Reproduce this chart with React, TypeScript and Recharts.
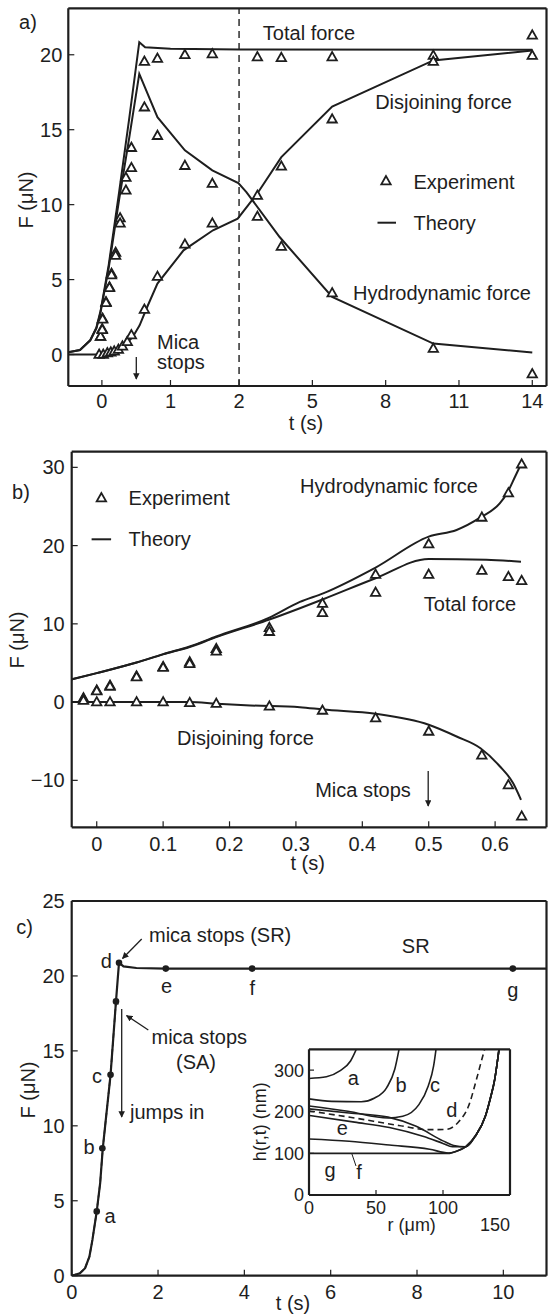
import React from "react";
import { ComposedChart, Line, Scatter, XAxis, YAxis, ReferenceLine } from "recharts";

document.body.style.margin = "0";

const INK = "#1e1e1e";
const FONT = "'Liberation Sans', Arial, Helvetica, sans-serif";

// ---------- panel a (t axis is compressed after 2 s) ----------
const aTheoryTotalT = [-0.49, -0.32, -0.17, -0.08, -0.02, 0.1, 0.25, 0.4, 0.545, 0.63, 1.0, 2, 14];
const aTheoryTotalF = [0.15, 0.3, 0.95, 1.8, 2.9, 6.0, 10.8, 15.8, 20.84, 20.5, 20.4, 20.35, 20.33];
const aTheoryHydroT = [-0.49, -0.32, -0.17, -0.08, -0.02, 0.1, 0.25, 0.4, 0.545, 0.81, 1.21, 1.61, 1.99, 2.3, 3.66, 5.81, 9.95, 14];
const aTheoryHydroF = [0.15, 0.3, 0.95, 1.75, 2.8, 5.8, 10.3, 14.5, 18.73, 15.84, 13.62, 12.29, 11.44, 10.84, 7.84, 3.84, 0.73, 0.13];
const aTheoryDisjT = [-0.49, 0.1, 0.2, 0.35, 0.45, 0.55, 0.66, 0.81, 1.19, 1.62, 1.98, 2.74, 3.73, 5.81, 9.95, 14];
const aTheoryDisjF = [0, 0, 0.25, 0.7, 1.17, 1.95, 3.17, 4.73, 6.95, 8.29, 9.07, 10.73, 13.17, 16.55, 19.62, 20.29];

const aExpT = [-0.02, 0.005, 0.01, 0.06, 0.11, 0.14, 0.2, 0.265, 0.35, 0.43, 0.62, 0.81, 1.21, 1.61, 2.75, 3.73, 5.81, 9.95, 14];
const aExpTotalF = [1.2, 1.7, 2.4, 3.5, 4.5, 5.4, 6.8, 9.1, 11.8, 13.8, 19.55, 19.75, 20.0, 20.05, 19.85, 19.8, 19.85, 19.95, 21.3];
const aExpHydroF = [1.2, 1.65, 2.35, 3.45, 4.45, 5.3, 6.6, 8.75, 10.95, 12.45, 16.5, 14.6, 12.6, 11.4, 9.2, 7.2, 4.1, 0.4, -1.3];
const aExpDisjT = [-0.04, 0.02, 0.08, 0.13, 0.18, 0.24, 0.3, 0.37, 0.43, 0.62, 0.81, 1.21, 1.61, 2.75, 3.73, 5.81, 9.95, 14];
const aExpDisjF = [0, 0, 0.1, 0.15, 0.22, 0.33, 0.55, 0.85, 1.3, 3.0, 5.2, 7.35, 8.75, 10.6, 12.55, 15.7, 19.55, 19.95];
const aTicksT = [0, 1, 2, 5, 8, 11, 14];
const aTicksF = [0, 5, 10, 15, 20];

// ---------- panel b ----------
const bTheoryHydroT = [-0.0377, 0, 0.06, 0.1, 0.14, 0.18, 0.26, 0.306, 0.341, 0.42, 0.5, 0.542, 0.578, 0.607, 0.618, 0.63, 0.639];
const bTheoryHydroF = [2.9, 3.7, 5.06, 6.13, 7.1, 8.38, 10.8, 12.8, 13.9, 17.2, 21.15, 22.0, 23.6, 25.4, 26.7, 28.8, 30.4];
const bTheoryTotalT = [-0.0377, 0, 0.06, 0.1, 0.14, 0.18, 0.26, 0.306, 0.341, 0.42, 0.5, 0.587, 0.639];
const bTheoryTotalF = [2.9, 3.7, 5.05, 6.1, 7.05, 8.3, 10.55, 12.0, 13.15, 15.83, 18.3, 18.2, 17.95];
const bTheoryDisjT = [-0.0377, 0.14, 0.18, 0.231, 0.306, 0.341, 0.42, 0.5, 0.542, 0.578, 0.607, 0.627, 0.639];
const bTheoryDisjF = [0, 0, -0.2, -0.43, -0.65, -0.95, -1.5, -2.9, -4.4, -5.9, -8.2, -10.35, -12.5];

const bExpT = [-0.02, 0, 0.02, 0.06, 0.1, 0.14, 0.18, 0.26, 0.34, 0.42, 0.5, 0.58, 0.62, 0.64];
const bExpHydroF = [0.5, 1.5, 2.1, 3.3, 4.5, 5.1, 6.8, 9.5, 12.6, 16.3, 20.2, 23.6, 26.7, 30.4];
const bExpTotalF = [0.4, 1.4, 2.0, 3.2, 4.4, 4.9, 6.5, 9.0, 11.4, 14.0, 16.3, 16.8, 16.0, 15.5];
const bExpDisjF = [0.2, 0, 0, 0, 0, -0.1, -0.2, -0.55, -1.07, -2.05, -3.75, -6.8, -10.6, -14.6];
const bTicksT = [0, 0.1, 0.2, 0.3, 0.4, 0.5, 0.6];
const bTicksF = [-10, 0, 10, 20, 30];

// ---------- panel c ----------
const cSRT = [0, 0.19, 0.31, 0.41, 0.48, 0.58, 0.66, 0.72, 0.9, 1.026, 1.096, 1.2, 1.5, 2.18, 11];
const cSRF = [0, 0.16, 0.5, 1.27, 2.39, 4.29, 6.2, 8.5, 13.4, 18.3, 20.88, 20.64, 20.53, 20.49, 20.49];
const cSAT = [0, 0.19, 0.31, 0.41, 0.48, 0.58, 0.66, 0.72, 0.9, 1.026, 1.08];
const cSAF = [0, 0.16, 0.5, 1.27, 2.39, 4.29, 6.2, 8.5, 13.4, 18.3, 18.1];
const cMarkT = [0.58, 0.71, 0.9, 1.026, 1.096, 2.18, 4.18, 10.22];
const cMarkF = [4.29, 8.5, 13.4, 18.3, 20.88, 20.49, 20.49, 20.49];
const cTicksT = [0, 2, 4, 6, 8, 10];
const cTicksF = [0, 5, 10, 15, 20, 25];

// ---------- inset: film profiles h(r) ----------
const rise = { r: [117, 124, 131.6, 135.4, 138.6, 142], h: [116, 141, 189, 233, 278, 355] };
const inA = { r: [0, 13, 23, 31, 36], h: [280, 284, 298, 322, 355] };
const inB = { r: [0, 17, 39, 49, 58, 64, 67.5], h: [231, 225, 224, 233, 258, 302, 355] };
const inC = { r: [0, 29, 59, 70, 82, 89, 93, 95], h: [214, 201, 185, 189, 217, 262, 310, 355] };
const inDdash = { r: [0, 34, 67, 89, 102, 112, 119, 125, 129, 131.5], h: [202, 185, 167, 157, 157.5, 177, 213, 278, 326, 355] };
const inD = { r: [0, 30, 59, 80, 100, 108, ...rise.r], h: [207, 197, 187, 165, 130, 119, ...rise.h] };
const inE = { r: [0, 34, 60, 85, 100, 107, ...rise.r], h: [191, 175, 162, 141, 124, 116, ...rise.h] };
const inF = { r: [0, 30, 60, 90, 104, 109, ...rise.r], h: [134.5, 129, 120, 110, 101, 104, ...rise.h] };
const inG = { r: [0, 105, 109, ...rise.r], h: [100, 100, 104, ...rise.h] };
const inTicksR = [0, 50, 100, 150];
const inTicksH = [0, 100, 200, 300];

const K = 0.3563;
const warp = (t: number) => (t <= 2 ? t : 2 + (t - 2) * K);
const unwarp = (x: number) => (x <= 2 ? x : 2 + (x - 2) / K);
const pts = (ts: number[], fs: number[], f = (t: number) => t) => ts.map((t, i) => ({ x: f(t), y: fs[i] }));
const prof = (c: { r: number[]; h: number[] }) => pts(c.r, c.h);
const minus = (v: number) => (v < 0 ? "\u2212" + Math.abs(v) : String(v));

const Tri = (p: any) => {
  const { cx, cy } = p;
  if (cx == null || cy == null) return null;
  return (
    <polygon
      points={`${cx},${cy - 5} ${cx - 4.7},${cy + 3.3} ${cx + 4.7},${cy + 3.3}`}
      fill="#fff"
      stroke={INK}
      strokeWidth={1.8}
    />
  );
};

const Dot = (p: any) => (p.cx == null ? null : <circle cx={p.cx} cy={p.cy} r={3.3} fill={INK} />);
const Nothing = () => <g />;

const InsetTick = (p: any) => {
  const { x, y, payload } = p;
  const far = payload.value === 150;
  return (
    <text x={x + (far ? -15 : 0)} y={y + (far ? 17 : 0)} dy="0.71em" textAnchor="middle" fontSize={18} fill={INK}>
      {payload.value}
    </text>
  );
};

// four axes make the closed box with inward ticks on every side
function frame(o: {
  xDomain: [number, number];
  yDomain: [number, number];
  xTicks: number[];
  yTicks: number[];
  xFmt?: (v: number) => string;
  yFmt?: (v: number) => string;
  xMargin: number;
  yMargin: number;
  yWidth: number;
  size?: number;
  ts?: number;
  xTick?: any;
}) {
  const size = o.size ?? 20;
  const ts = o.ts ?? 6;
  const axisLine = { stroke: INK, strokeWidth: 2.2 };
  const tickLine = { stroke: INK, strokeWidth: 1.2 };
  return [
    <XAxis key="xb" xAxisId="b" type="number" dataKey="x" domain={o.xDomain} ticks={o.xTicks} interval={0}
      allowDataOverflow tickFormatter={o.xFmt} tickSize={-ts} tickMargin={o.xMargin} height={30}
      axisLine={axisLine} tickLine={tickLine} tick={o.xTick ?? { fontSize: size, fill: INK }} />,
    <XAxis key="xt" xAxisId="t" orientation="top" type="number" dataKey="x" domain={o.xDomain} ticks={o.xTicks}
      interval={0} allowDataOverflow tick={false} tickSize={-ts} height={1} axisLine={axisLine} tickLine={tickLine} />,
    <YAxis key="yl" yAxisId="l" type="number" dataKey="y" domain={o.yDomain} ticks={o.yTicks} interval={0}
      allowDataOverflow tickFormatter={o.yFmt} tickSize={-ts} tickMargin={o.yMargin} width={o.yWidth}
      axisLine={axisLine} tickLine={tickLine} tick={{ fontSize: size, fill: INK }} />,
    <YAxis key="yr" yAxisId="r" orientation="right" type="number" dataKey="y" domain={o.yDomain} ticks={o.yTicks}
      interval={0} allowDataOverflow tick={false} tickSize={-ts} width={1} axisLine={axisLine} tickLine={tickLine} />,
    <Scatter key="anchor" xAxisId="t" yAxisId="r" data={[{ x: o.xDomain[0], y: o.yDomain[0] }]} dataKey="y"
      shape={Nothing} isAnimationActive={false} />,
  ];
}

const line = (key: string, data: any[], curve: any = "linear", dash?: string, w = 2) => (
  <Line key={key} xAxisId="b" yAxisId="l" data={data} dataKey="y" type={curve} stroke={INK} strokeWidth={w}
    strokeDasharray={dash} dot={false} activeDot={false} isAnimationActive={false} />
);
const marks = (key: string, data: any[], shape: any) => (
  <Scatter key={key} xAxisId="b" yAxisId="l" data={data} dataKey="y" shape={shape} isAnimationActive={false} />
);

const T = ({ x, y, children, anchor = "middle", size = 20, rot = false }: any) => (
  <text x={x} y={y} textAnchor={anchor} dominantBaseline="central" fontSize={size} fill={INK}
    transform={rot ? `rotate(-90 ${x} ${y})` : undefined}>
    {children}
  </text>
);

const Arrow = ({ x1, y1, x2, y2 }: any) => (
  <line x1={x1} y1={y1} x2={x2} y2={y2} stroke={INK} strokeWidth={1.3} markerEnd="url(#ah)" />
);

const abs = (top: number, left = 0): React.CSSProperties => ({ position: "absolute", top, left });

export default function App() {
  return (
    <div style={{ position: "relative", width: 548, height: 1315, background: "#fff", fontFamily: FONT }}>
      <div style={abs(0)}>
        <ComposedChart width={548} height={430} margin={{ top: 7.3, right: 0.5, bottom: 14, left: 0 }}>
          {frame({
            xDomain: [-0.49, 6.483], yDomain: [-2.1, 23.1], xTicks: aTicksT.map(warp), yTicks: aTicksF,
            xFmt: (v) => String(Math.round(unwarp(v))), xMargin: 14, yMargin: 12, yWidth: 68.3,
          })}
          <ReferenceLine xAxisId="b" yAxisId="l" x={warp(2)} stroke={INK} strokeWidth={1.4} strokeDasharray="7 5" />
          {line("tot", pts(aTheoryTotalT, aTheoryTotalF, warp))}
          {line("hyd", pts(aTheoryHydroT, aTheoryHydroF, warp))}
          {line("dis", pts(aTheoryDisjT, aTheoryDisjF, warp))}
          {marks("et", pts(aExpT, aExpTotalF, warp), Tri)}
          {marks("eh", pts(aExpT, aExpHydroF, warp), Tri)}
          {marks("ed", pts(aExpDisjT, aExpDisjF, warp), Tri)}
        </ComposedChart>
      </div>

      <div style={abs(440)}>
        <ComposedChart width={548} height={430} margin={{ top: 10.7, right: 0.5, bottom: 12.7, left: 0 }}>
          {frame({
            xDomain: [-0.0377, 0.6774], yDomain: [-16, 32], xTicks: bTicksT, yTicks: bTicksF,
            xFmt: (v) => (v === 0 ? "0" : v.toFixed(1)), yFmt: minus, xMargin: 15, yMargin: 13, yWidth: 71.7,
          })}
          {line("hyd", pts(bTheoryHydroT, bTheoryHydroF), "monotone")}
          {line("tot", pts(bTheoryTotalT, bTheoryTotalF), "monotone")}
          {line("dis", pts(bTheoryDisjT, bTheoryDisjF), "monotone")}
          {marks("eh", pts(bExpT, bExpHydroF), Tri)}
          {marks("et", pts(bExpT, bExpTotalF), Tri)}
          {marks("ed", pts(bExpT, bExpDisjF), Tri)}
        </ComposedChart>
      </div>

      <div style={abs(880)}>
        <ComposedChart width={548} height={435} margin={{ top: 20, right: 0.5, bottom: 9.3, left: 0 }}>
          {frame({
            xDomain: [0, 11], yDomain: [0, 25], xTicks: cTicksT, yTicks: cTicksF,
            xMargin: 15, yMargin: 13, yWidth: 71.7,
          })}
          {line("sa", pts(cSAT, cSAF), "linear", "5 3", 1.6)}
          {line("sr", pts(cSRT, cSRF), "linear", undefined, 2.2)}
          {marks("pts", pts(cMarkT, cMarkF), Dot)}
        </ComposedChart>
      </div>

      <div style={abs(1040, 250)}>
        <ComposedChart width={265} height={200} margin={{ top: 8.3, right: 4, bottom: 15, left: 0 }}>
          {frame({
            xDomain: [0, 150], yDomain: [0, 350], xTicks: inTicksR, yTicks: inTicksH,
            xMargin: 11, yMargin: 10, yWidth: 59, size: 18, ts: 5, xTick: InsetTick,
          })}
          {line("a", prof(inA), "monotone", undefined, 1.6)}
          {line("b", prof(inB), "monotone", undefined, 1.6)}
          {line("c", prof(inC), "monotone", undefined, 1.6)}
          {line("dd", prof(inDdash), "monotone", "6 4", 1.6)}
          {line("d", prof(inD), "monotone", undefined, 1.6)}
          {line("e", prof(inE), "monotone", undefined, 1.6)}
          {line("f", prof(inF), "monotone", undefined, 1.6)}
          {line("g", prof(inG), "monotone", undefined, 1.6)}
        </ComposedChart>
      </div>

      <svg width={548} height={1315} style={{ position: "absolute", left: 0, top: 0, pointerEvents: "none" }}>
        <defs>
          <marker id="ah" viewBox="0 0 10 10" refX="9" refY="5" markerWidth="5" markerHeight="5" orient="auto">
            <path d="M0,0 L10,5 L0,10 z" fill={INK} />
          </marker>
        </defs>

        {/* panel a */}
        <T x={28} y={22}>a)</T>
        <T x={26} y={200} rot>F (μN)</T>
        <T x={306} y={422.7}>t (s)</T>
        <T x={309} y={33.3}>Total force</T>
        <T x={443.5} y={102}>Disjoining force</T>
        <Tri cx={386} cy={181} />
        <T x={413.5} y={181.7} anchor="start">Experiment</T>
        <line x1={377.5} y1={222.7} x2={396} y2={222.7} stroke={INK} strokeWidth={2} />
        <T x={413.5} y={222.7} anchor="start">Theory</T>
        <T x={442} y={292.7}>Hydrodynamic force</T>
        <T x={157} y={341.7} anchor="start">Mica</T>
        <T x={157} y={361.7} anchor="start">stops</T>
        <Arrow x1={136.3} y1={357} x2={136.3} y2={379} />

        {/* panel b */}
        <T x={21} y={491.7}>b)</T>
        <T x={17} y={640} rot>F (μN)</T>
        <T x={307.6} y={863.3}>t (s)</T>
        <Tri cx={101.4} cy={498} />
        <T x={128.6} y={498.3} anchor="start">Experiment</T>
        <line x1={91.6} y1={539.3} x2={111.1} y2={539.3} stroke={INK} strokeWidth={2} />
        <T x={128.6} y={539.3} anchor="start">Theory</T>
        <T x={389} y={486}>Hydrodynamic force</T>
        <T x={470} y={604}>Total force</T>
        <T x={245.4} y={738.3}>Disjoining force</T>
        <T x={363} y={790}>Mica stops</T>
        <Arrow x1={428.2} y1={771} x2={428.2} y2={806} />

        {/* panel c */}
        <T x={24.5} y={927.3}>c)</T>
        <T x={28} y={1090} rot>F (μN)</T>
        <T x={293} y={1303.3}>t (s)</T>
        <T x={110} y={1215.5}>a</T>
        <T x={89} y={1146.7}>b</T>
        <T x={97} y={1076}>c</T>
        <T x={106.3} y={960.5}>d</T>
        <T x={166.5} y={986.3}>e</T>
        <T x={252.3} y={987.5}>f</T>
        <T x={512.8} y={990}>g</T>
        <T x={149} y={935} anchor="start">mica stops (SR)</T>
        <Arrow x1={141.7} y1={939} x2={122.5} y2={958.5} />
        <T x={151.5} y={1036.7} anchor="start">mica stops</T>
        <T x={196} y={1061.7}>(SA)</T>
        <Arrow x1={148.3} y1={1030} x2={126.5} y2={1015.5} />
        <Arrow x1={121.7} y1={1009} x2={121.7} y2={1117} />
        <T x={130} y={1111.7} anchor="start">jumps in</T>
        <T x={415.7} y={946}>SR</T>

        {/* inset */}
        <T x={260} y={1121.7} size={18} rot>h(r,t) (nm)</T>
        <T x={411.7} y={1225} size={18}>r (μm)</T>
        <T x={353.3} y={1078.3}>a</T>
        <T x={401} y={1085}>b</T>
        <T x={435} y={1085}>c</T>
        <T x={451.7} y={1110}>d</T>
        <T x={342.3} y={1128.3}>e</T>
        <T x={359} y={1171.7}>f</T>
        <T x={330} y={1170}>g</T>
        <line x1={351.7} y1={1153.3} x2={356} y2={1166} stroke={INK} strokeWidth={1} />
      </svg>
    </div>
  );
}
